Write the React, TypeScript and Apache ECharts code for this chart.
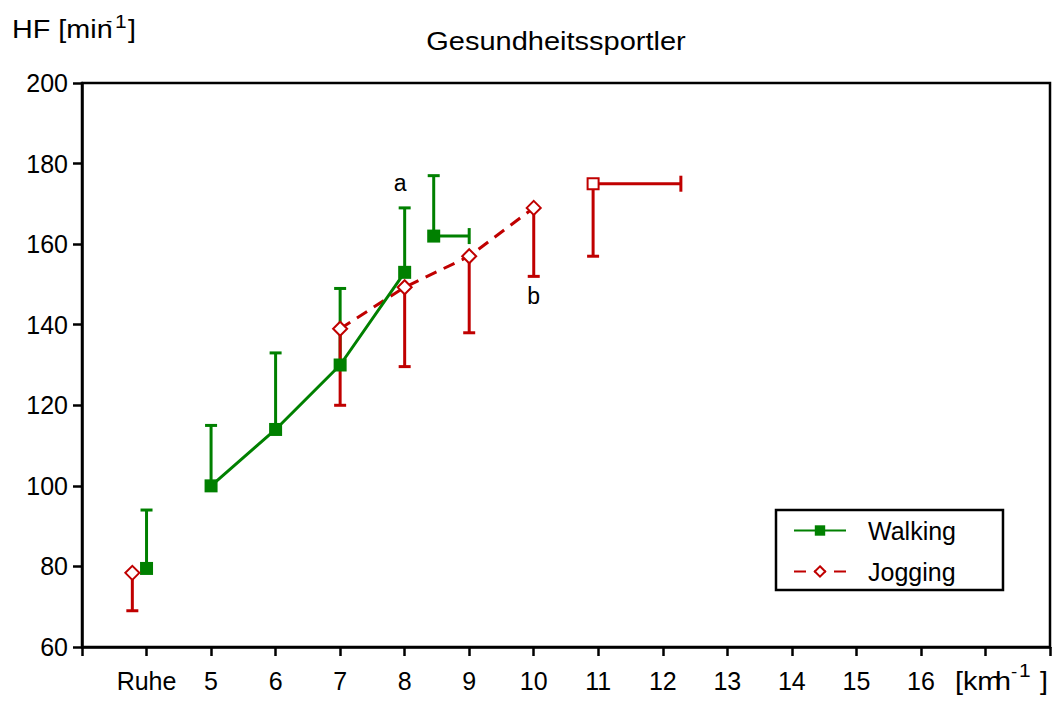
import React, { useEffect, useRef } from "react";
import * as echarts from "echarts";

const FONT = "Liberation Sans, Arial, sans-serif";
const GREEN = "#008000";
const RED = "#c00000";

// x position 4 stands for the resting value ("Ruhe")
const tickLabels: Record<number, string> = {
  4: "Ruhe", 5: "5", 6: "6", 7: "7", 8: "8", 9: "9", 10: "10",
  11: "11", 12: "12", 13: "13", 14: "14", 15: "15", 16: "16",
};

// Walking: rest + stages 5–8 km/h (mean, upper SD)
const walkingRestX = [4];
const walkingRestY = [79.5];
const walkingRestUpper = [94];
const walkingX = [5, 6, 7, 8];
const walkingY = [100, 114, 130, 153];
const walkingUpper = [115, 133, 149, 169];
// Walking maximum: speed with horizontal SD, HF with upper SD
const walkingMaxX = [8.45];
const walkingMaxY = [162];
const walkingMaxUpper = [177];
const walkingMaxXRight = [9.0];

// Jogging: rest + stages 7–10 km/h (mean, lower SD)
const joggingRestX = [3.78];
const joggingRestY = [78.4];
const joggingRestLower = [69];
const joggingX = [7, 8, 9, 10];
const joggingY = [139, 149.3, 157, 169];
const joggingLower = [120, 129.6, 138, 152];
// Jogging maximum
const joggingMaxX = [10.92];
const joggingMaxY = [175];
const joggingMaxLower = [157];
const joggingMaxXRight = [12.28];

// significance letters
const noteText = ["a", "b"];
const noteX = [7.93, 10];
const noteY = [175.3, 147.1];

function errorBarSeries(data: number[][], color: string) {
  return {
    type: "custom",
    z: 2,
    silent: true,
    encode: { x: [0, 2], y: [1, 3] },
    data,
    renderItem: (_params: any, api: any) => {
      const p0 = api.coord([api.value(0), api.value(1)]);
      const p1 = api.coord([api.value(2), api.value(3)]);
      const vertical = Math.abs(p0[0] - p1[0]) < 0.5;
      const cap = vertical
        ? { x1: p1[0] - 6, y1: p1[1], x2: p1[0] + 6, y2: p1[1] }
        : { x1: p1[0], y1: p1[1] - 8, x2: p1[0], y2: p1[1] + 8 };
      const style = { stroke: color, lineWidth: 3 };
      return {
        type: "group",
        children: [
          { type: "line", shape: { x1: p0[0], y1: p0[1], x2: p1[0], y2: p1[1] }, style },
          { type: "line", shape: cap, style },
        ],
      };
    },
  };
}

const zip = (xs: number[], ys: number[]) => xs.map((x, i) => [x, ys[i]]);

// small text piece, left-anchored and vertically centred on y
const txt = (x: number, y: number, text: string, fontSize: number, scaleX = 1.15) => ({
  type: "text",
  x, y, scaleX, z: 10,
  style: { text, fontSize, fontFamily: FONT, fill: "#000", align: "left", verticalAlign: "middle" },
});

export default function App() {
  const ref = useRef<HTMLDivElement>(null);

  useEffect(() => {
    if (!ref.current) return;
    const chart = echarts.init(ref.current, null, { renderer: "svg" });

    const walkingBars = [
      ...walkingRestX.map((x, i) => [x, walkingRestY[i], x, walkingRestUpper[i]]),
      ...walkingX.map((x, i) => [x, walkingY[i], x, walkingUpper[i]]),
      ...walkingMaxX.map((x, i) => [x, walkingMaxY[i], x, walkingMaxUpper[i]]),
      ...walkingMaxX.map((x, i) => [x, walkingMaxY[i], walkingMaxXRight[i], walkingMaxY[i]]),
    ];
    const joggingBars = [
      ...joggingRestX.map((x, i) => [x, joggingRestY[i], x, joggingRestLower[i]]),
      ...joggingX.map((x, i) => [x, joggingY[i], x, joggingLower[i]]),
      ...joggingMaxX.map((x, i) => [x, joggingMaxY[i], x, joggingMaxLower[i]]),
      ...joggingMaxX.map((x, i) => [x, joggingMaxY[i], joggingMaxXRight[i], joggingMaxY[i]]),
    ];

    const axisLine = { lineStyle: { color: "#000", width: 2.5 } };
    const axisTick = { length: 9, lineStyle: { color: "#000", width: 2.5 } };

    chart.setOption({
      animation: false,
      backgroundColor: "#fff",
      grid: {
        left: 82, right: 9, top: 83, bottom: 55,
        show: true, borderColor: "#000", borderWidth: 2.5,
      },
      xAxis: {
        type: "value", min: 3, max: 18, interval: 1,
        axisLine, axisTick,
        splitLine: { show: false },
        axisLabel: {
          formatter: (v: number) => tickLabels[v] ?? "",
          fontSize: 25, color: "#000", fontFamily: FONT, margin: 21,
          showMinLabel: true, showMaxLabel: true,
        },
      },
      yAxis: {
        type: "value", min: 60, max: 200, interval: 20,
        axisLine: { show: true, ...axisLine }, axisTick: { show: true, ...axisTick },
        splitLine: { show: false },
        axisLabel: { fontSize: 25, color: "#000", fontFamily: FONT, margin: 14 },
      },
      legend: {
        data: ["Walking", "Jogging"],
        orient: "vertical",
        left: 776, top: 510,
        padding: [8, 47, 6, 17],
        itemGap: 16,
        itemWidth: 52, itemHeight: 13,
        borderColor: "#000", borderWidth: 2.5,
        textStyle: { fontSize: 25, color: "#000", fontFamily: FONT, padding: [0, 0, 0, 17] },
        selectedMode: false,
      },
      graphic: [
        // y-axis unit: HF [min^-1]
        txt(12, 30, "HF [min", 25, 1.15),
        txt(106, 20, "-", 17, 1.1),
        txt(115, 21, "1", 19, 1.1),
        txt(128, 30, "]", 25, 1.15),
        // x-axis unit: [km·h^-1]
        txt(955, 682, "[km", 25, 1.15),
        txt(992, 676, "·", 14, 1),
        txt(995, 682, "h", 25, 1.15),
        txt(1011, 671, "-", 17, 1.1),
        txt(1019, 670, "1", 19, 1.1),
        txt(1040, 682, "]", 25, 1.15),
        {
          type: "text", x: 556, y: 41, scaleX: 1.16,
          style: {
            text: "Gesundheitssportler", fontSize: 25, fontFamily: FONT, fill: "#000",
            align: "center", verticalAlign: "middle",
          },
        },
      ],
      series: [
        errorBarSeries(walkingBars, GREEN),
        errorBarSeries(joggingBars, RED),
        {
          name: "Walking", type: "line", z: 4,
          data: zip(walkingX, walkingY),
          symbol: "rect", symbolSize: 13,
          lineStyle: { color: GREEN, width: 3 },
          itemStyle: { color: GREEN, opacity: 1 },
        },
        {
          name: "Jogging", type: "line", z: 3,
          data: zip(joggingX, joggingY),
          symbol: "diamond", symbolSize: 14,
          lineStyle: { color: RED, width: 3, type: [12, 8] },
          itemStyle: { color: "#fff", borderColor: RED, borderWidth: 2, opacity: 1 },
        },
        {
          name: "walkingSingle", type: "scatter", z: 4,
          data: [...zip(walkingRestX, walkingRestY), ...zip(walkingMaxX, walkingMaxY)],
          symbol: "rect", symbolSize: 13,
          itemStyle: { color: GREEN, opacity: 1 },
        },
        {
          name: "joggingRest", type: "scatter", z: 4,
          data: zip(joggingRestX, joggingRestY),
          symbol: "diamond", symbolSize: 14,
          itemStyle: { color: "#fff", borderColor: RED, borderWidth: 2, opacity: 1 },
        },
        {
          name: "joggingMax", type: "scatter", z: 4,
          data: zip(joggingMaxX, joggingMaxY),
          symbol: "rect", symbolSize: 11,
          itemStyle: { color: "#fff", borderColor: RED, borderWidth: 2, opacity: 1 },
        },
        {
          name: "notes", type: "scatter", z: 5,
          data: noteText.map((t, i) => ({ name: t, value: [noteX[i], noteY[i]] })),
          symbolSize: 0,
          itemStyle: { opacity: 1 },
          label: {
            show: true, position: "inside", formatter: (p: any) => p.name,
            fontSize: 23, color: "#000", fontFamily: FONT,
          },
        },
      ],
    });

    return () => chart.dispose();
  }, []);

  return (
    <div
      ref={ref}
      style={{ position: "absolute", left: 0, top: 0, width: 1059, height: 702, background: "#fff" }}
    />
  );
}
